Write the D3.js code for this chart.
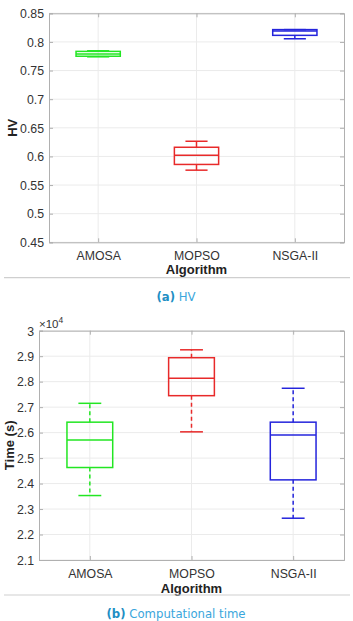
<!DOCTYPE html>
<html>
<head>
<meta charset="utf-8">
<script src="https://cdn.jsdelivr.net/npm/d3@7"></script>
<style>
  body { margin: 0; background: #fff; }
  svg { display: block; }
</style>
</head>
<body>
<svg id="svg-main" width="353" height="621"></svg>
<script>
// algorithms on the x axis
var algorithms = ["AMOSA", "MOPSO", "NSGA-II"];
var boxColors = ["#22e622", "#e82a2a", "#2424dc"];

// (a) HV box statistics
var hvLow = [0.774, 0.576, 0.8055];
var hvQ1 = [0.775, 0.586, 0.8115];
var hvMedian = [0.779, 0.602, 0.819];
var hvQ3 = [0.7835, 0.616, 0.8215];
var hvHigh = [0.7845, 0.6265, 0.8215];
var hvTicks = [0.45, 0.5, 0.55, 0.6, 0.65, 0.7, 0.75, 0.8, 0.85];

// (b) computational time box statistics, x10^4 s
var timeLow = [2.353, 2.603, 2.264];
var timeQ1 = [2.463, 2.745, 2.4145];
var timeMedian = [2.571, 2.813, 2.591];
var timeQ3 = [2.641, 2.894, 2.641];
var timeHigh = [2.715, 2.925, 2.774];
var timeTicks = [2.1, 2.2, 2.3, 2.4, 2.5, 2.6, 2.7, 2.8, 2.9, 3];

var svg = d3.select("#svg-main");
var textColor = "#333";
var font = "Liberation Sans, Arial, sans-serif";

function drawPanel(opt) {
    var x = d3.scalePoint()
        .domain(algorithms)
        .range([opt.left, opt.right])
        .padding(0.5);
    var y = d3.scaleLinear()
        .domain(opt.domain)
        .range([opt.bottom, opt.top]);
    var step = x.step();
    var boxW = step * 0.45;
    var capW = boxW / 2;

    var g = svg.append("g");

    // grid
    g.selectAll(".hgrid").data(opt.ticks).enter().append("line")
        .attr("x1", opt.left).attr("x2", opt.right)
        .attr("y1", function(d) { return y(d); })
        .attr("y2", function(d) { return y(d); })
        .attr("stroke", "#ebebeb").attr("stroke-width", 1);
    g.selectAll(".vgrid").data(algorithms).enter().append("line")
        .attr("x1", function(d) { return x(d); })
        .attr("x2", function(d) { return x(d); })
        .attr("y1", opt.top).attr("y2", opt.bottom)
        .attr("stroke", "#ebebeb").attr("stroke-width", 1);

    // axes via d3
    var yAxis = d3.axisLeft(y).tickValues(opt.ticks).tickSize(-4).tickPadding(5)
        .tickFormat(function(d) { return d3.format("~g")(d); });
    var yg = g.append("g").attr("transform", "translate(" + opt.left + ",0)").call(yAxis);
    var yAxisR = d3.axisRight(y).tickValues(opt.ticks).tickSize(-4).tickFormat("");
    var yr = g.append("g").attr("transform", "translate(" + opt.right + ",0)").call(yAxisR);
    var xAxis = d3.axisBottom(x).tickSize(-4).tickPadding(9);
    var xg = g.append("g").attr("transform", "translate(0," + opt.bottom + ")").call(xAxis);
    var xAxisT = d3.axisTop(x).tickSize(-4).tickFormat("");
    var xt = g.append("g").attr("transform", "translate(0," + opt.top + ")").call(xAxisT);

    [yg, yr, xg, xt].forEach(function(a) {
        a.select(".domain").attr("stroke", "#b0b0b0").attr("stroke-width", 1);
        a.selectAll(".tick line").attr("stroke", "#b0b0b0");
        a.selectAll("text")
            .attr("fill", textColor)
            .attr("font-family", font)
            .style("font-size", "12.3px");
    });
    yg.selectAll("text").attr("dy", "0.35em");
    xg.selectAll("text").attr("dy", "0.71em");

    // boxes
    var boxes = g.selectAll(".box").data(algorithms).enter().append("g");
    boxes.each(function(name, i) {
        var b = d3.select(this);
        var cx = x(name);
        var col = boxColors[i];
        var st = opt.stats;
        // whiskers
        b.append("line")
            .attr("x1", cx).attr("x2", cx)
            .attr("y1", y(st.q3[i])).attr("y2", y(st.high[i]))
            .attr("stroke", col).attr("stroke-width", 1.5)
            .attr("stroke-dasharray", opt.dash);
        b.append("line")
            .attr("x1", cx).attr("x2", cx)
            .attr("y1", y(st.q1[i])).attr("y2", y(st.low[i]))
            .attr("stroke", col).attr("stroke-width", 1.5)
            .attr("stroke-dasharray", opt.dash);
        // caps
        [st.low[i], st.high[i]].forEach(function(v) {
            b.append("line")
                .attr("x1", cx - capW / 2).attr("x2", cx + capW / 2)
                .attr("y1", y(v)).attr("y2", y(v))
                .attr("stroke", col).attr("stroke-width", 1.5);
        });
        // box
        b.append("rect")
            .attr("x", cx - boxW / 2)
            .attr("y", y(st.q3[i]))
            .attr("width", boxW)
            .attr("height", y(st.q1[i]) - y(st.q3[i]))
            .attr("fill", "none")
            .attr("stroke", col).attr("stroke-width", 1.5);
        // median
        b.append("line")
            .attr("x1", cx - boxW / 2).attr("x2", cx + boxW / 2)
            .attr("y1", y(st.median[i])).attr("y2", y(st.median[i]))
            .attr("stroke", col).attr("stroke-width", 1.5);
    });

    // axis titles
    g.append("text")
        .attr("x", (opt.left + opt.right) / 2)
        .attr("y", opt.xTitleY)
        .attr("text-anchor", "middle")
        .attr("fill", "#222")
        .attr("font-family", font)
        .attr("font-weight", "bold")
        .style("font-size", "13px")
        .text("Algorithm");
    g.append("text")
        .attr("transform", "translate(" + opt.yTitleX + "," + ((opt.top + opt.bottom) / 2) + ") rotate(-90)")
        .attr("text-anchor", "middle")
        .attr("fill", "#222")
        .attr("font-family", font)
        .attr("font-weight", "bold")
        .style("font-size", "13px")
        .text(opt.yTitle);

    // separator and caption
    svg.append("line")
        .attr("x1", 4).attr("x2", 350)
        .attr("y1", opt.sepY).attr("y2", opt.sepY)
        .attr("stroke", "#cfcfcf").attr("stroke-width", 1.2);
    var cap = svg.append("text")
        .attr("x", 176)
        .attr("y", opt.capY)
        .attr("text-anchor", "middle")
        .attr("font-family", "DejaVu Sans Condensed, DejaVu Sans, sans-serif")
        .style("font-size", "13px");
    cap.append("tspan").attr("fill", "#1f8fc4").attr("font-weight", "bold").text(opt.capTag);
    cap.append("tspan").attr("fill", "#3aa6dc").text(" " + opt.capText);

    return g;
}

drawPanel({
    left: 49, right: 344, top: 13.3, bottom: 242.3,
    domain: [0.45, 0.85], ticks: hvTicks,
    stats: { low: hvLow, q1: hvQ1, median: hvMedian, q3: hvQ3, high: hvHigh },
    dash: null,
    xTitleY: 274, yTitle: "HV", yTitleX: 17,
    sepY: 277.7, capY: 301, capTag: "(a)", capText: "HV"
});

var g2 = drawPanel({
    left: 39, right: 344, top: 330.7, bottom: 560,
    domain: [2.1, 3], ticks: timeTicks,
    stats: { low: timeLow, q1: timeQ1, median: timeMedian, q3: timeQ3, high: timeHigh },
    dash: "4,3",
    xTitleY: 592.5, yTitle: "Time (s)", yTitleX: 14,
    sepY: 595, capY: 618, capTag: "(b)", capText: "Computational time"
});

// exponent label
var ex = g2.append("text")
    .attr("x", 39)
    .attr("y", 327.5)
    .attr("fill", textColor)
    .attr("font-family", font)
    .style("font-size", "11.5px");
ex.append("tspan").text("\u00d710");
ex.append("tspan").attr("dy", "-5").style("font-size", "8.5px").text("4");
</script>
</body>
</html>
